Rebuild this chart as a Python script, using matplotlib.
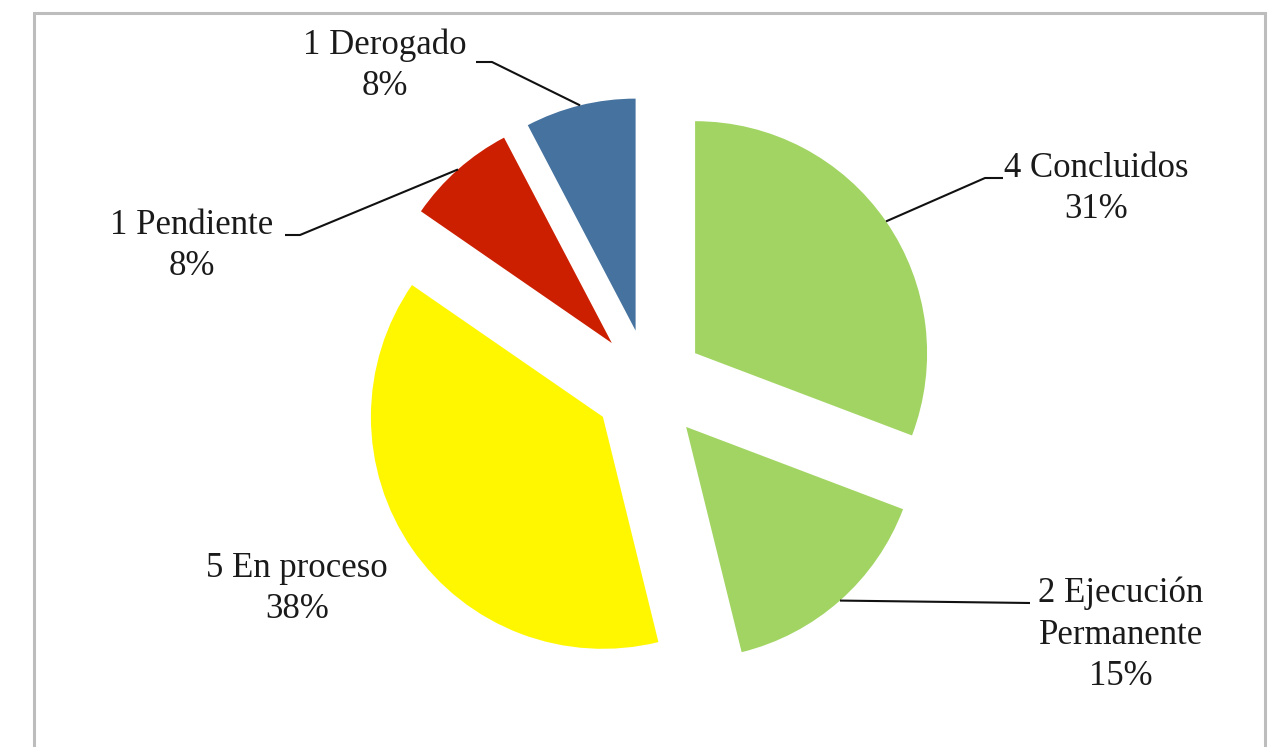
import numpy as np
import matplotlib
matplotlib.use("Agg")
import matplotlib.pyplot as plt
from matplotlib.patches import Rectangle

# ---- data ----
categories = ["Concluidos", "Ejecución\nPermanente", "En proceso", "Pendiente", "Derogado"]
counts = [4, 2, 5, 1, 1]
percent_labels = ["31%", "15%", "38%", "8%", "8%"]
colors = ["#A2D463", "#A2D463", "#FFF700", "#CC1F00", "#45729F"]

W, H = 1269, 747
fig = plt.figure(figsize=(W / 100, H / 100), dpi=100)
ax = fig.add_axes([0, 0, 1, 1])

# chart frame
ax.add_patch(Rectangle((34, -20), 1231, H - 13 + 20, fill=False,
                       edgecolor="#BDBDBD", linewidth=2.2))

radius = 232
center = (649, H - 385)
wedges, _ = ax.pie(counts, colors=colors, startangle=90, counterclock=False,
                   radius=radius, center=center, explode=[56] * len(counts),
                   wedgeprops=dict(linewidth=0), frame=True)
ax.set_xlim(0, W)
ax.set_ylim(0, H)
ax.set_aspect("equal")
ax.axis("off")

font = dict(family="Liberation Serif", size=25, color="#1a1a1a")

# label layout: (text centre x, y-from-top), leader anchor (x, y-from-top), stub
label_pos = [(1096, 189), (1121, 635), (297, 589), (192, 246), (385, 66)]
anchors = [(1003, 178), (1030, 603), None, (285, 235), (476, 62)]
stub = [-18, None, None, 15, 16]

for w, cat, n, pct, (lx, ly), anc, st in zip(wedges, categories, counts,
                                              percent_labels, label_pos, anchors, stub):
    ax.text(lx, H - ly, f"{n} {cat}\n{pct}", ha="center", va="center",
            linespacing=1.33, **font)
    if anc is None:
        continue
    thm = np.deg2rad((w.theta1 + w.theta2) / 2)
    cx, cy = w.center
    px, py = cx + w.r * np.cos(thm), cy + w.r * np.sin(thm)
    ax0, ay0 = anc[0], H - anc[1]
    if st is None:
        xs, ys = [ax0, px], [ay0, py]
    else:
        xs, ys = [ax0, ax0 + st, px], [ay0, ay0, py]
    ax.plot(xs, ys, color="#111111", linewidth=1.5, solid_capstyle="butt")

fig.savefig("out.png", dpi=100, facecolor="white")
